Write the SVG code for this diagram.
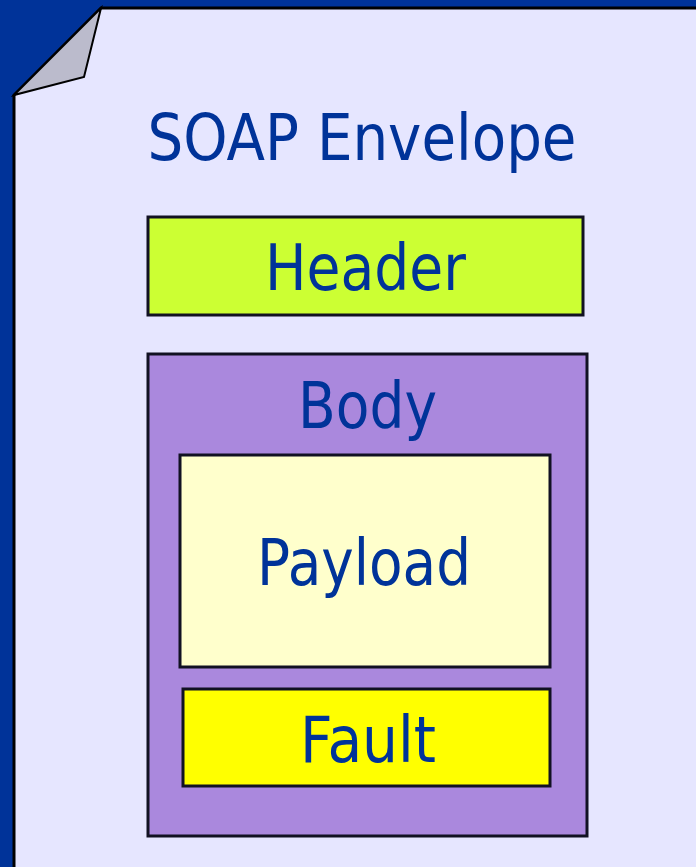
<svg xmlns="http://www.w3.org/2000/svg" width="696" height="867" viewBox="0 0 696 867">
<style>
.box{stroke:#111122;stroke-width:3}
.t{font-family:"DejaVu Sans",Verdana,sans-serif;fill:#003399;text-anchor:middle;font-size:64px}
</style>
<rect x="0" y="0" width="696" height="867" fill="#003399"/>
<g id="envelope">
<path d="M101,8 L700,8 L700,870 L14,870 L14,95 Z" fill="#E6E6FF" stroke="#000" stroke-width="3"/>
<path d="M101,8 L84,77 L14,95 Z" fill="#BBBBCC" stroke="#000" stroke-width="2"/>
<text class="t" x="362" y="160" textLength="429" lengthAdjust="spacingAndGlyphs">SOAP Envelope</text>
</g>
<g id="header">
<rect class="box" x="148" y="217" width="435" height="98" fill="#CCFF33"/>
<text class="t" x="365.5" y="290" textLength="201" lengthAdjust="spacingAndGlyphs">Header</text>
</g>
<g id="body">
<rect class="box" x="148" y="354" width="439" height="482" fill="#AA88DD"/>
<text class="t" x="367.5" y="428" textLength="139" lengthAdjust="spacingAndGlyphs">Body</text>
</g>
<g id="payload">
<rect class="box" x="180" y="455" width="370" height="212" fill="#FFFFCC"/>
<text class="t" x="364" y="585" textLength="214" lengthAdjust="spacingAndGlyphs">Payload</text>
</g>
<g id="fault">
<rect class="box" x="183" y="689" width="367" height="97" fill="#FFFF00"/>
<text class="t" x="368" y="762" textLength="136" lengthAdjust="spacingAndGlyphs">Fault</text>
</g>
<g id="connectors"/>
</svg>
